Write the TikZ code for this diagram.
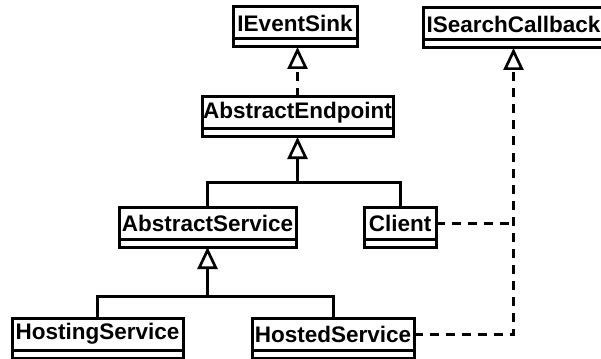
\documentclass[tikz,border=0pt]{standalone}
\usepackage{fontspec}
\setmainfont{Liberation Sans}
\usetikzlibrary{arrows.meta}
\tikzset{
  head/.style={draw, line width=3pt, outer sep=0pt, inner sep=0pt,
    minimum height=32pt, minimum width=#1, anchor=north west,
    font=\fontsize{22.5}{26}\selectfont\bfseries},
  body/.style={draw, line width=3pt, outer sep=0pt, inner sep=0pt,
    minimum height=8pt, minimum width=#1, anchor=north west},
  link/.style={line width=3pt},
  realize/.style={line width=3pt, dash pattern=on 9pt off 7pt},
  inherit/.style={-{Triangle[open, length=22pt, width=20pt, line width=2.7pt]}},
}
\begin{document}
\begin{tikzpicture}[x=1pt, y=-1pt]
\useasboundingbox (0,0) rectangle (601,358);
\fill[white] (0,0) rectangle (601,358);
\clip (0,0) rectangle (601,358);

% interfaces
\node[head=124pt] (sink) at (233,7) {IEventSink};
\node[body=124pt] (sinkb) at (sink.south west) {};
\node[head=181pt] (search) at (423,8) {ISearchCallback};
\node[body=181pt] (searchb) at (search.south west) {};

% classes
\node[head=191pt] (endpoint) at (202,97) {AbstractEndpoint};
\node[body=191pt] (endpointb) at (endpoint.south west) {};
\node[head=177pt] (service) at (119,207) {AbstractService};
\node[body=177pt] (serviceb) at (service.south west) {};
\node[head=72pt] (client) at (364,207) {Client};
\node[body=72pt] (clientb) at (client.south west) {};
\node[head=171pt] (hosting) at (12,318) {HostingService};
\node[body=171pt] (hostingb) at (hosting.south west) {};
\node[head=162pt] (hosted) at (252,318) {HostedService};
\node[body=162pt] (hostedb) at (hosted.south west) {};

% branch points of the generalization trees
\coordinate (j1) at (endpoint.south |- 0,182);
\coordinate (j2) at (service.south |- 0,296);

% AbstractEndpoint realizes IEventSink
\draw[realize, inherit] (endpoint.north) -- (endpoint.north |- sinkb.south);

% AbstractService and Client extend AbstractEndpoint
\draw[link] (service.north) |- (j1) -| (client.north);
\draw[link, inherit] (j1) -- (endpointb.south);

% HostingService and HostedService extend AbstractService
\draw[link] (hosting.north) |- (j2) -| (hosted.north);
\draw[link, inherit] (j2) -- (serviceb.south);

% ISearchCallback realizations
\draw[realize, inherit] (hosted.east) -| (searchb.south);
\draw[realize] (client.east) -- (client.east -| searchb.south);
\end{tikzpicture}
\end{document}
